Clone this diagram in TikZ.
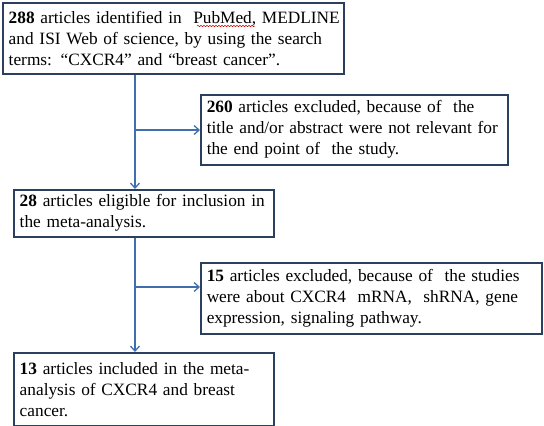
\documentclass[tikz,border=0pt]{standalone}
\usepackage{fontspec}
\setmainfont{Liberation Serif}
\usetikzlibrary{arrows.meta,decorations.pathmorphing}
\definecolor{boxline}{HTML}{2B3F5E}
\definecolor{arrowline}{HTML}{3F6FAD}
\begin{document}
\begin{tikzpicture}[x=1pt,y=1pt]
\tikzstyle{every node}+=[font=\fontsize{17.3}{21}\selectfont]
\tikzstyle{flowbox}=[draw=boxline,line width=1.5pt,fill=white,anchor=north west,
  inner xsep=6pt,inner ysep=0pt,align=left]
\tikzstyle{flowarrow}=[draw=arrowline,line width=1.6pt,-{Straight Barb[length=5pt,width=9pt,line width=1.3pt]}]
\useasboundingbox (0,0) rectangle (544,-426);

\node [flowbox,minimum width=341pt,minimum height=71pt,text width=329pt] (found) at (2,-2)
  {\mbox{\textbf{288} articles identified in~ PubMed, MEDLINE}\\
   and ISI Web of science, by using the search\\
   terms: “CXCR4” and “breast cancer”.};
\node [flowbox,minimum width=307pt,minimum height=70pt,text width=295pt] (excl1) at (200,-94)
  {\textbf{260} articles excluded, because of~ the\\
   title and/or abstract were not relevant for\\
   the end point of~ the study.};
\node [flowbox,minimum width=260pt,minimum height=47pt,text width=248pt] (eligible) at (13,-189)
  {\textbf{28} articles eligible for inclusion in\\
   the meta-analysis.};
\node [flowbox,minimum width=341pt,minimum height=71pt,text width=329pt] (excl2) at (200,-262)
  {\textbf{15} articles excluded, because of~ the studies\\
   were about CXCR4~ mRNA,~ shRNA, gene\\
   expression, signaling pathway.};
\node [flowbox,minimum width=260pt,minimum height=73pt,text width=248pt] (included) at (13,-352)
  {\textbf{13} articles included in the meta-\\
   analysis of CXCR4 and breast\\
   cancer.};

% spell-check squiggle under PubMed
\draw [red!80!black,line width=0.5pt,decorate,decoration={snake,amplitude=0.7pt,segment length=3pt}]
  (197,-26) -- (255,-26);

\coordinate (split1) at (135,-130);
\coordinate (split2) at (135,-287);

\draw [flowarrow] (found.south -| split1) -- (eligible.north -| split1);
\draw [flowarrow] (split1) -- (excl1.west |- split1);

\draw [flowarrow] (eligible.south -| split2) -- (included.north -| split2);
\draw [flowarrow] (split2) -- (excl2.west |- split2);
\end{tikzpicture}
\end{document}
